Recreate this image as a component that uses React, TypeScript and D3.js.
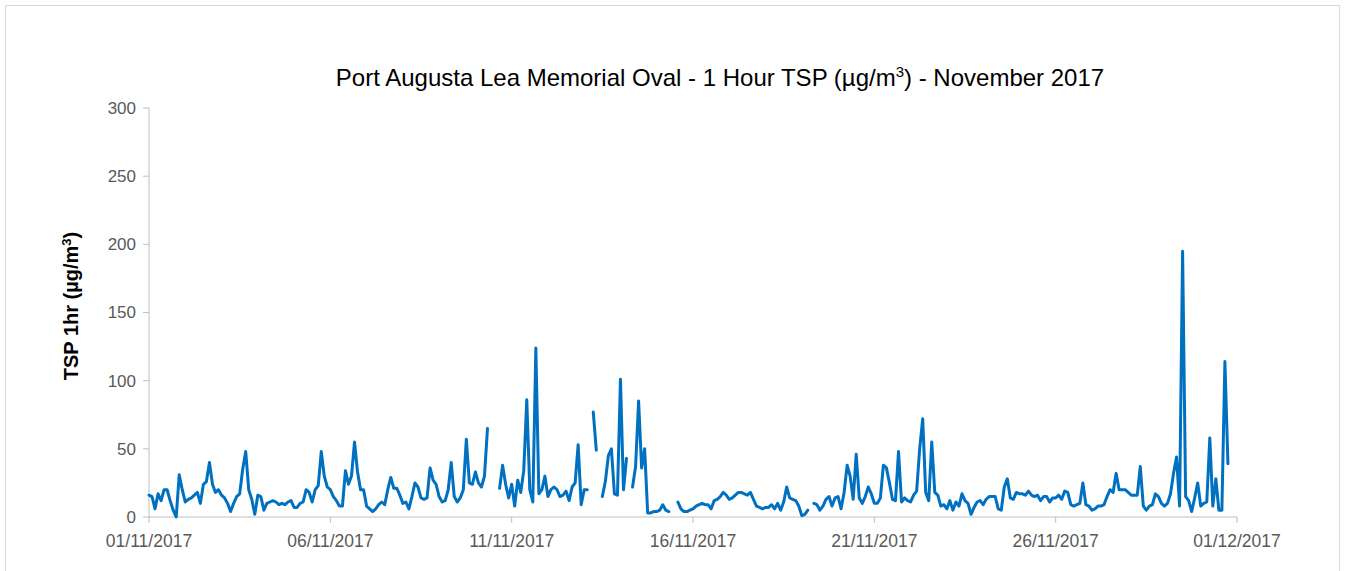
import React from 'react';
import * as d3 from 'd3';

// 2-hourly TSP readings (µg/m³), one row per day of November 2017, null = no data
const tspByDay: (number | null)[][] = [
  [16, 15, 6, 17, 12, 20, 20, 12, 5, 0, 31, 20],
  [11, 13, 14, 16, 18, 10, 24, 26, 40, 24, 18, 20],
  [16, 14, 10, 4, 10, 15, 17, 35, 48, 20, 13, 2],
  [16, 15, 5, 10, 11, 12, 11, 9, 10, 9, 11, 12],
  [7, 7, 10, 11, 20, 18, 11, 20, 23, 48, 30, 22],
  [20, 15, 12, 8, 8, 34, 24, 30, 55, 33, 20, 20],
  [8, 6, 4, 6, 9, 11, 9, 20, 29, 21, 21, 16],
  [10, 11, 6, 15, 25, 22, 14, 13, 14, 36, 27, 24],
  [15, 11, 12, 20, 40, 15, 11, 14, 20, 57, 25, 24],
  [33, 25, 22, 30, 65, null, null, null, 21, 38, 24, 14],
  [24, 8, 27, 18, 34, 86, 20, 11, 124, 17, 20, 30],
  [15, 20, 22, 20, 15, 16, 19, 12, 22, 25, 53, 9],
  [20, 20, null, 77, 49, null, 15, 26, 45, 50, 17, 16],
  [101, 20, 43, null, 22, 37, 85, 36, 50, 3, 3, 4],
  [4, 5, 9, 5, 4, null, null, 11, 6, 4, 4, 5],
  [6, 8, 9, 10, 9, 9, 6, 12, 13, 15, 18, 16],
  [13, 14, 16, 18, 18, 17, 16, 18, 13, 8, 7, 6],
  [7, 7, 9, 6, 10, 5, 11, 22, 14, 13, 12, 8],
  [1, 2, 5, null, 10, 9, 5, 8, 13, 15, 8, 14],
  [15, 6, 18, 38, 30, 13, 46, 14, 10, 15, 22, 17],
  [10, 10, 14, 38, 36, 25, 13, 12, 48, 11, 14, 12],
  [11, 16, 19, 50, 72, 18, 12, 55, 18, 16, 8, 9],
  [6, 12, 5, 11, 8, 17, 12, 10, 2, 7, 11, 12],
  [9, 13, 15, 15, 15, 6, 5, 22, 28, 14, 13, 18],
  [17, 17, 16, 19, 16, 15, 16, 12, 15, 15, 11, 14],
  [14, 16, 13, 19, 18, 9, 8, 9, 10, 25, 9, 8],
  [5, 6, 8, 8, 9, 15, 20, 18, 32, 20, 20, 20],
  [18, 16, 16, 16, 37, 8, 5, 8, 9, 17, 15, 10],
  [8, 10, 17, 32, 44, 8, 195, 15, 12, 4, 14, 25],
  [8, 10, 11, 58, 8, 28, 5, 5, 114, 39, null, null],
];
const tspValues = tspByDay.flat();
const stepHours = 2;

const xTickLabels = ['01/11/2017', '06/11/2017', '11/11/2017', '16/11/2017', '21/11/2017', '26/11/2017', '01/12/2017'];
const yTicks = [0, 50, 100, 150, 200, 250, 300];

const parseDay = d3.timeParse('%d/%m/%Y');
const startDate = parseDay(xTickLabels[0]) as Date;
const endDate = parseDay(xTickLabels[xTickLabels.length - 1]) as Date;

const width = 1345;
const height = 571;
const margin = { top: 108, right: 108, bottom: 54, left: 149 };
const font = '"Liberation Sans", Arial, sans-serif';

const App: React.FC = () => {
  const x = d3.scaleTime().domain([startDate, endDate]).range([margin.left, width - margin.right]);
  const y = d3.scaleLinear().domain([0, 300]).range([height - margin.bottom, margin.top]);

  const line = d3
    .line<number | null>()
    .defined((d) => d != null)
    .x((_, i) => x(d3.timeHour.offset(startDate, i * stepHours)))
    .y((d) => y(d as number));

  const x0 = x.range()[0];
  const x1 = x.range()[1];
  const yBase = y(0);

  return (
    <svg width={width} height={height} style={{ position: 'absolute', left: 0, top: 0 }} fontFamily={font}>
      <rect x={5.5} y={5.5} width={1334} height={620} fill="#fff" stroke="#d9d9d9" />

      <text x={720} y={86} textAnchor="middle" fontSize={24} fill="#000">
        Port Augusta Lea Memorial Oval - 1 Hour TSP (µg/m
        <tspan dy={-9} fontSize={15}>3</tspan>
        <tspan dy={9}>) - November 2017</tspan>
      </text>

      {/* y axis */}
      <line x1={x0} x2={x0} y1={y(300)} y2={yBase} stroke="#bfbfbf" />
      {yTicks.map((t) => (
        <g key={t}>
          <line x1={x0 - 6} x2={x0} y1={y(t)} y2={y(t)} stroke="#bfbfbf" />
          <text x={x0 - 13} y={y(t)} dy="0.35em" textAnchor="end" fontSize={17} fill="#595959">
            {t}
          </text>
        </g>
      ))}

      {/* x axis */}
      <line x1={x0} x2={x1} y1={yBase} y2={yBase} stroke="#bfbfbf" />
      {xTickLabels.map((lbl) => {
        const px = x(parseDay(lbl) as Date);
        return (
          <g key={lbl}>
            <line x1={px} x2={px} y1={yBase} y2={yBase + 6} stroke="#bfbfbf" />
            <text x={px} y={yBase + 30} textAnchor="middle" fontSize={17.5} fill="#595959">
              {lbl}
            </text>
          </g>
        );
      })}

      <text
        transform={`translate(78, 306) rotate(-90)`}
        textAnchor="middle"
        fontSize={20}
        fontWeight="bold"
        fill="#000"
      >
        TSP 1hr (µg/m
        <tspan dy={-7} fontSize={13}>3</tspan>
        <tspan dy={7}>)</tspan>
      </text>

      <path d={line(tspValues) || ''} fill="none" stroke="#0070c0" strokeWidth={3} strokeLinejoin="round" strokeLinecap="round" />
    </svg>
  );
};

export default App;
